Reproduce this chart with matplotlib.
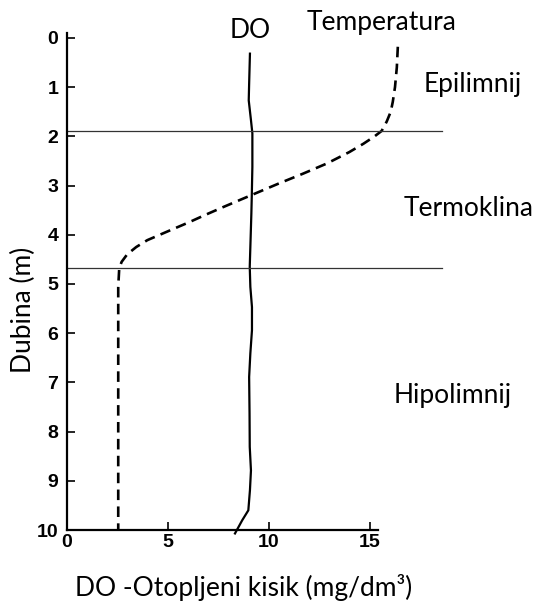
import matplotlib
matplotlib.use('Agg')
import matplotlib.pyplot as plt

# Temperature profile (dashed), x = value, y = depth in m
temp_depth = [0.18, 0.6, 1.0, 1.3, 1.5, 1.7, 1.89, 2.0, 2.15, 2.32, 2.55, 2.76, 2.96, 3.16,
	3.43, 3.6, 3.74, 3.94, 4.11, 4.25, 4.4, 4.55, 4.68, 5.06, 10.0]
temp_value = [16.4, 16.35, 16.26, 16.15, 16.05, 15.85, 15.6, 15.25, 14.7, 14.0, 12.9, 11.7, 10.5, 9.35,
	7.8, 6.85, 6.1, 4.96, 4.0, 3.45, 3.0, 2.73, 2.61, 2.56, 2.56]

# Dissolved oxygen profile (solid)
do_depth = [0.32, 0.93, 1.27, 1.67, 1.94, 2.62, 3.23, 3.57, 4.25, 4.65, 5.06, 5.47,
	5.94, 6.41, 6.89, 7.63, 8.31, 8.79, 9.19, 9.6, 9.8, 10.07]
do_value = [9.08, 9.04, 9.02, 9.13, 9.2, 9.2, 9.17, 9.15, 9.1, 9.07, 9.1, 9.18,
	9.18, 9.1, 9.04, 9.06, 9.07, 9.13, 9.08, 9.0, 8.7, 8.34]

# layer boundaries (depth) and layer names
boundaries = [1.89, 4.67]
layers = ['Epilimnij', 'Termoklina', 'Hipolimnij']
layer_pos = [(20.1, 0.94), (19.9, 3.46), (19.1, 7.26)]

xticks = [0, 5, 10, 15]
yticks = list(range(0, 11))

label_font = 'Lato'
tick_font = 'Liberation Sans'
label_size = 19

fig = plt.figure(figsize=(5.39, 6.04), dpi=100)
ax = fig.add_axes([0.1234, 0.1225, 0.5772, 0.8229])

ax.plot(do_value, do_depth, color='black', lw=1.6, clip_on=False)
ax.plot(temp_value, temp_depth, color='black', lw=1.9, linestyle=(0, (4, 2.4)), clip_on=False)

for b in boundaries:
	ax.plot([0, 18.6], [b, b], color='#333333', lw=0.9, clip_on=False)

ax.set_xlim(0, 15.4)
ax.set_ylim(10, -0.1)
ax.set_xticks(xticks)
ax.set_yticks(yticks)

for side in ['top', 'right']:
	ax.spines[side].set_visible(False)
for side in ['left', 'bottom']:
	ax.spines[side].set_linewidth(1.6)

ax.tick_params(direction='in', length=6, width=1.2, labelsize=14)
ax.tick_params(axis='y', pad=6)
ax.tick_params(axis='x', pad=3)
for lbl in ax.get_xticklabels() + ax.get_yticklabels():
	lbl.set_family(tick_font)
	lbl.set_weight('bold')

ax.text(9.1, -0.16, 'DO', family=label_font, fontsize=label_size, ha='center', va='center')
ax.text(15.6, -0.32, 'Temperatura', family=label_font, fontsize=label_size, ha='center', va='center')
for name, (x, y) in zip(layers, layer_pos):
	ax.text(x, y, name, family=label_font, fontsize=label_size, ha='center', va='center')

fig.text(0.4527, 0.028, 'DO -Otopljeni kisik (mg/dm³)', family=label_font, fontsize=label_size,
	ha='center', va='center')
fig.text(0.043, 0.487, 'Dubina (m)', family=label_font, fontsize=label_size, rotation=90,
	ha='center', va='center')

fig.savefig('out.png', dpi=100)
